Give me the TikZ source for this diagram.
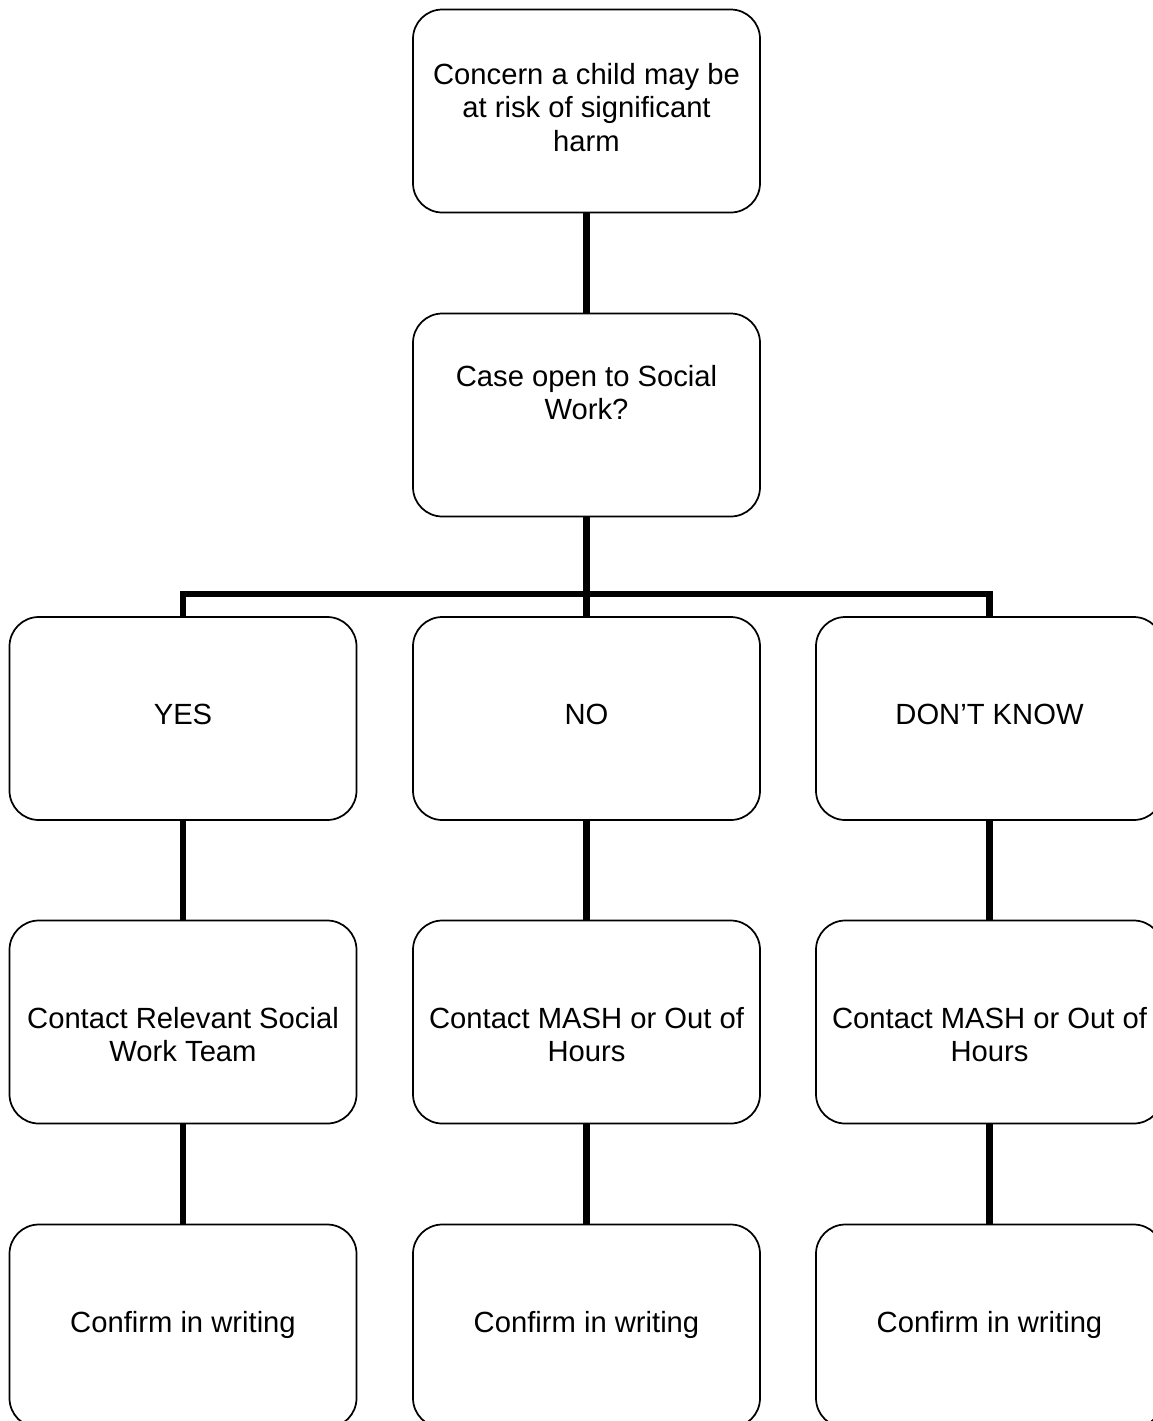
\documentclass[tikz,border=0pt]{standalone}
\usepackage{fontspec}
\setmainfont{Liberation Sans}
\begin{document}
\begin{tikzpicture}[x=0.75pt,y=-0.75pt,
  box/.style={draw=black,line width=1.3pt,rounded corners=22pt,minimum width=260.25pt,minimum height=152.25pt,inner sep=0pt,fill=white},
  txt/.style={align=center,inner sep=0pt,font=\fontsize{21.9pt}{25.1pt}\selectfont},
  link/.style={line width=4.6pt,line join=miter}]
\useasboundingbox (0,0) rectangle (1153,1421);
% boxes
\node[box] (top) at (586.5,111) {};
\node[box] (case) at (586.5,415) {};
\node[box] (yes) at (183,718.5) {};
\node[box] (no) at (586.5,718.5) {};
\node[box] (dk) at (989.5,718.5) {};
\node[box] (c1) at (183,1022) {};
\node[box] (c2) at (586.5,1022) {};
\node[box] (c3) at (989.5,1022) {};
\node[box] (w1) at (183,1326) {};
\node[box] (w2) at (586.5,1326) {};
\node[box] (w3) at (989.5,1326) {};
% connectors
\coordinate (split) at (586.5,594);
\draw[link] (top.south) -- (case.north);
\draw[link] (case.south) -- (split) -- (no.north);
\draw[link] (yes.north) |- (split) -| (dk.north);
\draw[link] (yes.south) -- (c1.north);
\draw[link] (no.south) -- (c2.north);
\draw[link] (dk.south) -- (c3.north);
\draw[link] (c1.south) -- (w1.north);
\draw[link] (c2.south) -- (w2.north);
\draw[link] (c3.south) -- (w3.north);
% texts
\node[txt] (ttop) at (586.5,107.5) {Concern a child may be\\at risk of significant\\harm};
\node[txt] (tcase) at (586.5,392.5) {Case open to Social\\Work?};
\node[txt] (tyes) at (183,714) {YES};
\node[txt] (tno) at (586.5,714) {NO};
\node[txt] (tdk) at (989.5,714) {DON’T KNOW};
\node[txt] (tc1) at (183,1034.5) {Contact Relevant Social\\Work Team};
\node[txt] (tc2) at (586.5,1034.5) {Contact MASH or Out of\\Hours};
\node[txt] (tc3) at (989.5,1034.5) {Contact MASH or Out of\\Hours};
\node[txt] (tw1) at (183,1325) {Confirm in writing};
\node[txt] (tw2) at (586.5,1325) {Confirm in writing};
\node[txt] (tw3) at (989.5,1325) {Confirm in writing};
\end{tikzpicture}
\end{document}
